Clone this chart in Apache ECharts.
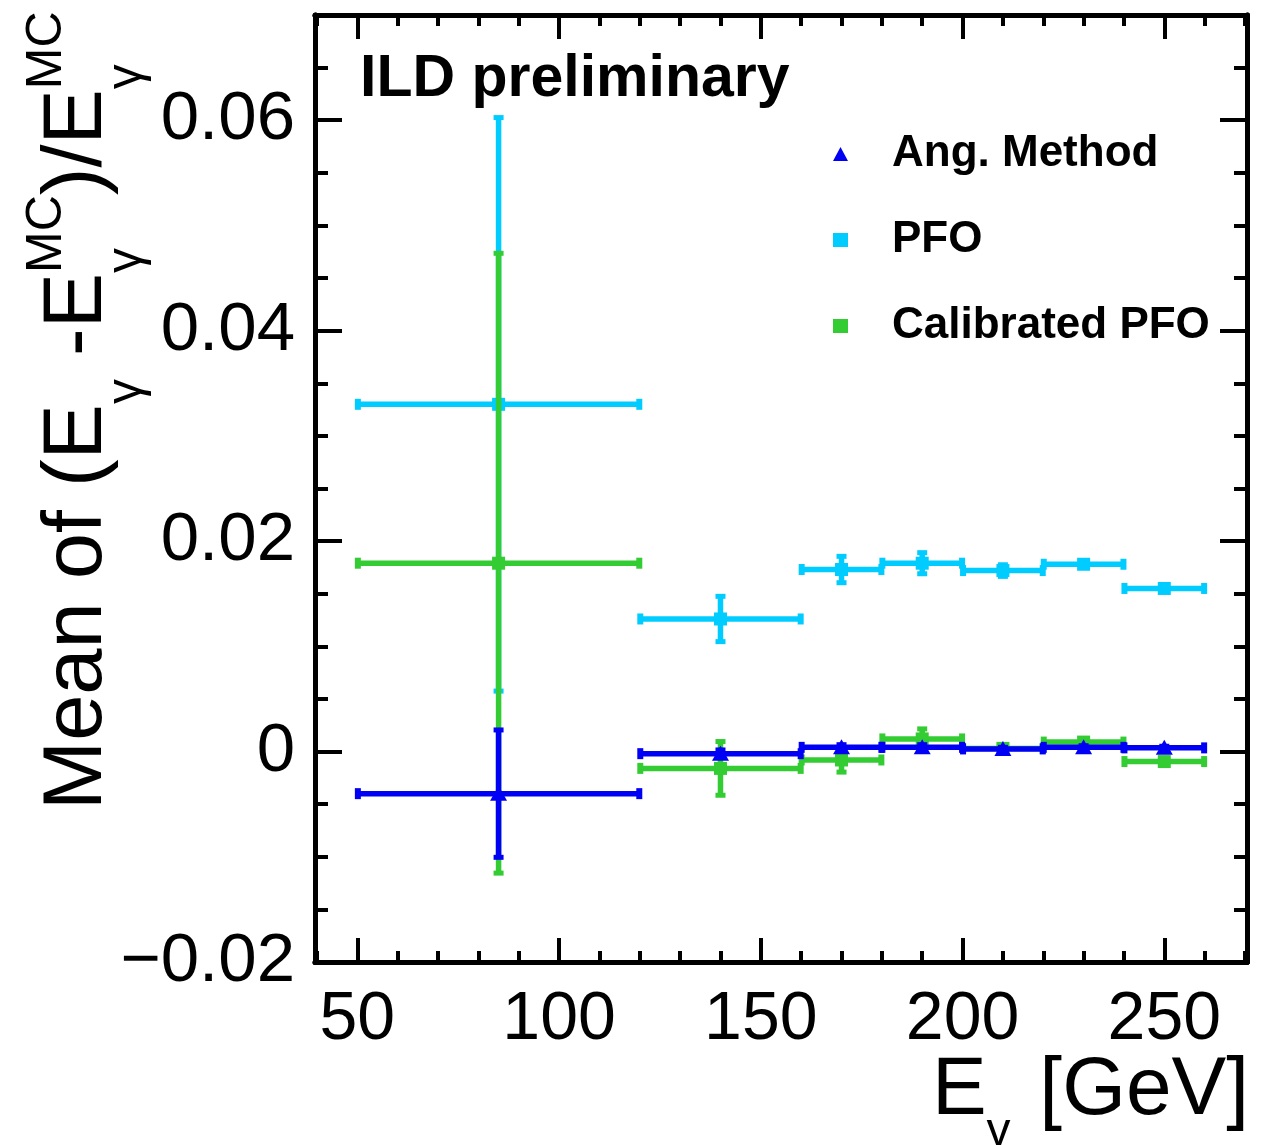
<!DOCTYPE html>
<html>
<head>
<meta charset="utf-8">
<script src="https://cdn.jsdelivr.net/npm/echarts@6/dist/echarts.min.js"></script>
<style>
html,body{margin:0;padding:0;background:#fff;}
#chart{width:1273px;height:1145px;}
</style>
</head>
<body>
<div id="chart"></div>
<script>
// ---------------- data ----------------
const binLow    = [50, 120, 160, 180, 200, 220, 240];
const binHigh   = [120, 160, 180, 200, 220, 240, 260];
const binCenter = [85, 140, 170, 190, 210, 230, 250];

const angMean = [-0.0040, -0.0002, 0.0004, 0.0004, 0.00025, 0.0004, 0.00035];
const angErr  = [0.0061, 0.0004, 0.0003, 0.0003, 0.0002, 0.0002, 0.0002];

const pfoMean = [0.0330, 0.0126, 0.0173, 0.0179, 0.0172, 0.0178, 0.0155];
const pfoErr  = [0.0273, 0.0022, 0.0013, 0.00105, 0.0006, 0.0002, 0.0002];

const calMean = [0.0179, -0.0016, -0.0008, 0.0012, 0.0003, 0.0009, -0.00095];
const calErr  = [0.0295, 0.0026, 0.0012, 0.0010, 0.0004, 0.0003, 0.0003];

const xMajorTicks = [50, 100, 150, 200, 250];
const xMinorTicks = [40, 60, 70, 80, 90, 110, 120, 130, 140, 160, 170, 180, 190, 210, 220, 230, 240, 260, 270];
const yMajorTicks = [-0.02, 0, 0.02, 0.04, 0.06];
const yMinorTicks = [-0.015, -0.01, -0.005, 0.005, 0.01, 0.015, 0.025, 0.03, 0.035, 0.045, 0.05, 0.055, 0.065];

const seriesNames = ['Ang. Method', 'PFO', 'Calibrated PFO'];
const colors = {'Ang. Method': '#0000f5', 'PFO': '#00ccff', 'Calibrated PFO': '#33cc33'};

// ---------------- helpers ----------------
const FONT = '"Liberation Sans", Arial, Helvetica, sans-serif';
const X_MIN = 39.5, X_MAX = 270.5, Y_MIN = -0.02, Y_MAX = 0.07;

const mctx = document.createElement('canvas').getContext('2d');
function tw(text, size, weight) {
  mctx.font = (weight ? weight + ' ' : '') + size + 'px ' + FONT;
  return mctx.measureText(text).width;
}

function makeErrSeries(name, means, errs, marker, z) {
  const color = colors[name];
  return {
    name: name,
    type: 'custom',
    z: z,
    itemStyle: {color: color},
    data: binCenter.map((c, i) => [c, means[i], binLow[i], binHigh[i], errs[i]]),
    renderItem: function (params, api) {
      const x = api.value(0), y = api.value(1), lo = api.value(2), hi = api.value(3), e = api.value(4);
      const pC = api.coord([x, y]);
      const pL = api.coord([lo, y]);
      const pH = api.coord([hi, y]);
      const pT = api.coord([x, y + e]);
      const pB = api.coord([x, y - e]);
      const lw = 5.5;
      const st = {fill: color};
      const ch = [];
      ch.push({type: 'rect', shape: {x: pL[0], y: pC[1] - lw / 2, width: pH[0] - pL[0], height: lw}, style: st});
      ch.push({type: 'rect', shape: {x: pL[0] - 2.5, y: pC[1] - 5.5, width: 6, height: 11}, style: st});
      ch.push({type: 'rect', shape: {x: pH[0] - 3.5, y: pC[1] - 5.5, width: 6, height: 11}, style: st});
      ch.push({type: 'rect', shape: {x: pC[0] - lw / 2, y: pT[1], width: lw, height: pB[1] - pT[1]}, style: st});
      ch.push({type: 'rect', shape: {x: pC[0] - 5, y: pT[1] - 2, width: 10, height: 5}, style: st});
      ch.push({type: 'rect', shape: {x: pC[0] - 5, y: pB[1] - 3, width: 10, height: 5}, style: st});
      if (marker === 'triangle') {
        ch.push({type: 'polygon', shape: {points: [[pC[0] - 8.5, pC[1] + 7], [pC[0] + 8.5, pC[1] + 7], [pC[0], pC[1] - 8]]}, style: st});
      } else {
        ch.push({type: 'rect', shape: {x: pC[0] - 6.5, y: pC[1] - 6.5, width: 13, height: 13}, style: st});
      }
      return {type: 'group', children: ch};
    }
  };
}

function xAxisDef(pos, ticks, len, labels) {
  return {
    type: 'value', min: X_MIN, max: X_MAX, position: pos,
    axisLine: {show: true, onZero: false, lineStyle: {color: '#000', width: 5}},
    axisTick: {show: true, inside: true, length: len, customValues: ticks, lineStyle: {color: '#000', width: 4}},
    axisLabel: labels ? {show: true, customValues: ticks, margin: 24, fontSize: 68, color: '#000', fontFamily: FONT} : {show: false},
    splitLine: {show: false}
  };
}
function yAxisDef(pos, ticks, len, labels) {
  return {
    type: 'value', min: Y_MIN, max: Y_MAX, position: pos,
    axisLine: {show: true, onZero: false, lineStyle: {color: '#000', width: 5}},
    axisTick: {show: true, inside: true, length: len, customValues: ticks, lineStyle: {color: '#000', width: 4}},
    axisLabel: labels ? {
      show: true, customValues: ticks, margin: 20, fontSize: 69, color: '#000', fontFamily: FONT,
      formatter: function (v) { if (Math.abs(v) < 1e-9) return '0'; return (v < 0 ? '\u2212' : '') + Math.abs(v).toFixed(2); }
    } : {show: false},
    splitLine: {show: false}
  };
}

// ---------- axis titles (rich layout with sub/superscripts) ----------
function buildTitle(tokens, rotate) {
  const children = [];
  let pos = 0;
  tokens.forEach(tok => {
    const parts = tok.stack ? tok.stack : [tok];
    let adv = 0;
    parts.forEach(p => {
      const w = tw(p.t, p.s);
      adv = Math.max(adv, w);
      children.push({
        type: 'text',
        x: pos, y: p.dy - 0.35 * p.s,
        style: {text: p.t, font: p.s + 'px ' + FONT, fill: '#000', align: 'left', verticalAlign: 'middle'}
      });
    });
    pos += adv + (tok.extra || 0);
  });
  return {pos: pos, group: {type: 'group', x: 0, y: 0, rotation: rotate ? Math.PI / 2 : 0, children: children}};
}

const YT = 83, YS = 50;
const yTitle = buildTitle([
  {t: 'Mean of (E', s: YT, dy: 0},
  {t: '\u03b3', s: YS, dy: 38},
  {t: ' -E', s: YT, dy: 0},
  {stack: [{t: '\u03b3', s: YS, dy: 38}, {t: 'MC', s: YS, dy: -42}]},
  {t: ')/E', s: YT, dy: 0},
  {stack: [{t: '\u03b3', s: YS, dy: 38}, {t: 'MC', s: YS, dy: -42}]}
], true);
yTitle.group.x = 107;
yTitle.group.y = 810;

const XT = 82, XS = 48;
const xTitle = buildTitle([
  {t: 'E', s: XT, dy: 0},
  {t: '\u03b3', s: XS, dy: 30, extra: 6},
  {t: ' [GeV]', s: XT, dy: 0}
], false);
xTitle.group.x = 1249 - xTitle.pos;
xTitle.group.y = 1120;

// ---------------- chart ----------------
const chart = echarts.init(document.getElementById('chart'), null, {renderer: 'canvas'});
const option = {
  backgroundColor: '#fff',
  animation: false,
  title: {
    text: 'ILD preliminary', left: 360, top: 50, padding: 0,
    textStyle: {fontSize: 59, fontWeight: 'bold', color: '#000', fontFamily: FONT}
  },
  legend: {
    orient: 'vertical', left: 828, top: 127, itemGap: 42,
    itemWidth: 15, itemHeight: 14,
    data: [
      {name: 'Ang. Method', icon: 'triangle'},
      {name: 'PFO', icon: 'rect'},
      {name: 'Calibrated PFO', icon: 'rect'}
    ],
    textStyle: {fontSize: 44, fontWeight: 'bold', color: '#000', fontFamily: FONT, padding: [0, 0, 0, 39]}
  },
  grid: {left: 315, top: 15, width: 932, height: 947, containLabel: false},
  xAxis: [
    xAxisDef('bottom', xMajorTicks, 24, true),
    xAxisDef('bottom', xMinorTicks, 11, false),
    xAxisDef('top', xMajorTicks, 24, false),
    xAxisDef('top', xMinorTicks, 11, false)
  ],
  yAxis: [
    yAxisDef('left', yMajorTicks, 27, true),
    yAxisDef('left', yMinorTicks, 13, false),
    yAxisDef('right', yMajorTicks, 27, false),
    yAxisDef('right', yMinorTicks, 13, false)
  ],
  series: [
    makeErrSeries('PFO', pfoMean, pfoErr, 'square', 2),
    makeErrSeries('Calibrated PFO', calMean, calErr, 'square', 3),
    makeErrSeries('Ang. Method', angMean, angErr, 'triangle', 4)
  ],
  graphic: [yTitle.group, xTitle.group]
};
chart.setOption(option);
</script>
</body>
</html>
